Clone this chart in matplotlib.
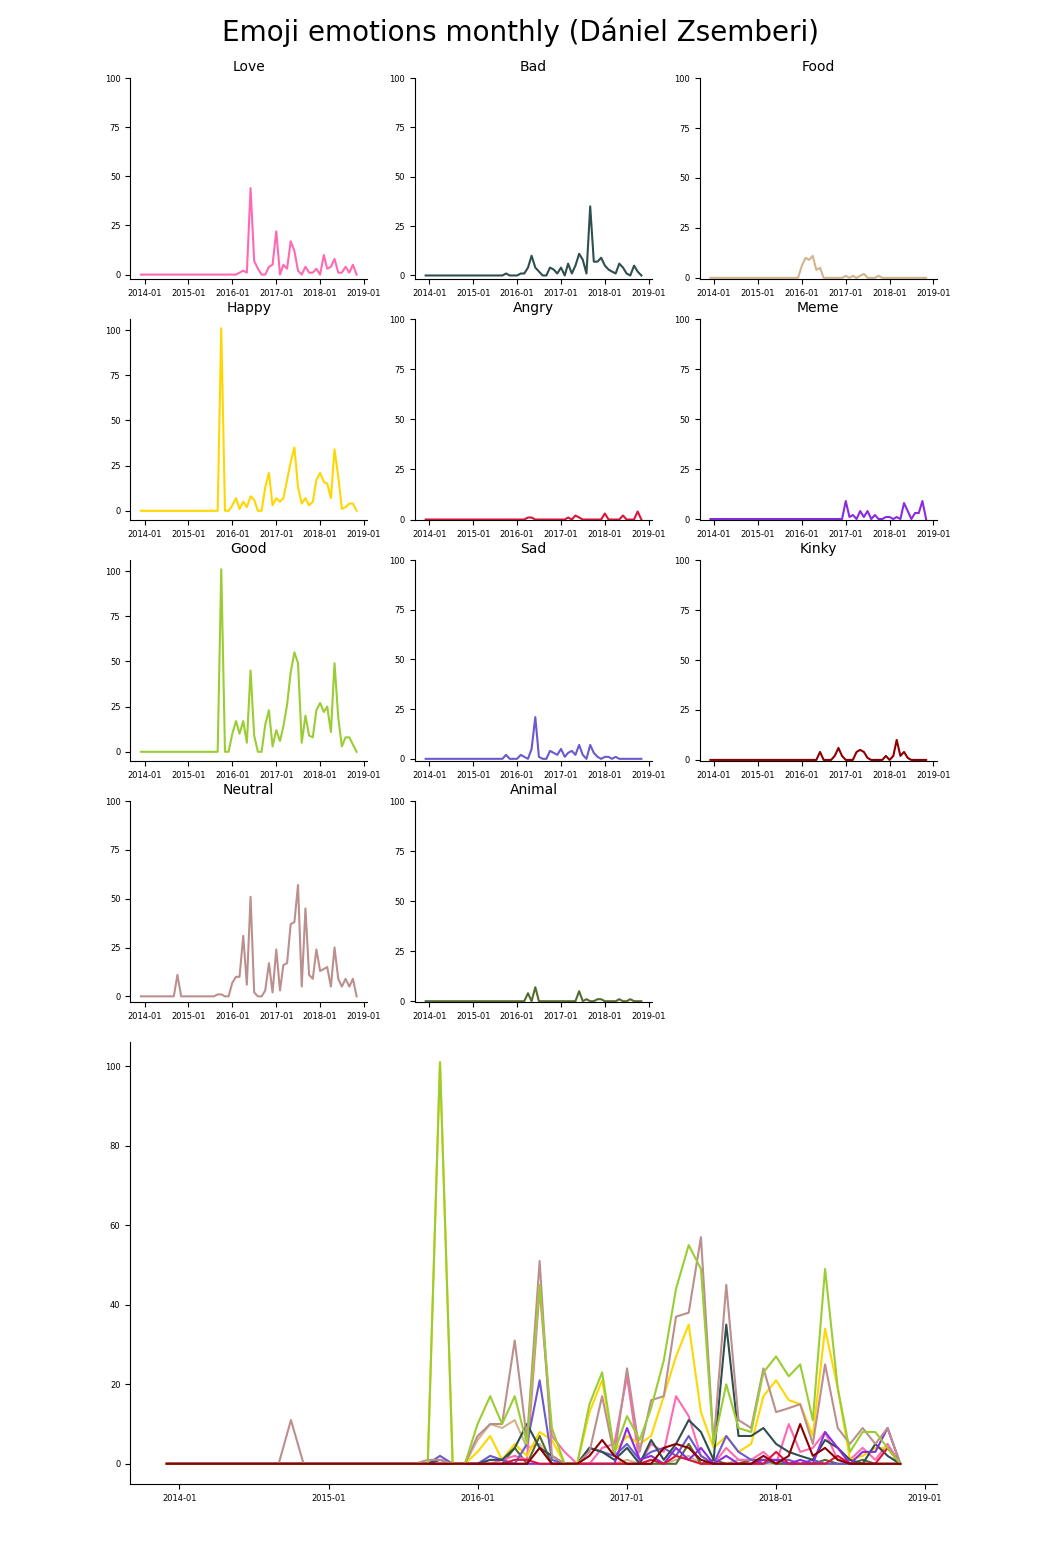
import numpy as np
import pandas as pd
import matplotlib
matplotlib.use("Agg")
import matplotlib.pyplot as plt
import matplotlib.dates as mdates

# monthly counts, 2013-12 .. 2018-11
months = pd.date_range("2013-12-01", periods=60, freq="MS")

z12 = [0] * 12
love = [0] + z12 + z12 + \
    [0, 0, 1, 2, 1, 44, 7, 3, 0, 0, 4, 5] + \
    [22, 0, 5, 3, 17, 12, 2, 0, 4, 1, 1, 3] + \
    [0, 10, 3, 4, 8, 1, 1, 4, 1, 5, 0]
bad = [0] + z12 + [0, 0, 0, 0, 0, 0, 0, 0, 0, 1, 0, 0] + \
    [0, 1, 1, 4, 10, 4, 2, 0, 0, 4, 3, 1] + \
    [4, 0, 6, 1, 5, 11, 8, 1, 35, 7, 7, 9] + \
    [5, 3, 2, 1, 6, 4, 1, 0, 5, 2, 0]
food = [0] + z12 + z12 + \
    [6, 10, 9, 11, 4, 5, 0, 0, 0, 0, 0, 0] + \
    [1, 0, 1, 0, 1, 2, 0, 0, 0, 1, 0, 0] + \
    [0] * 11
happy = [0] + z12 + [0, 0, 0, 0, 0, 0, 0, 0, 0, 101, 0, 0] + \
    [3, 7, 1, 5, 2, 8, 6, 0, 0, 13, 21, 3] + \
    [7, 5, 7, 17, 27, 35, 13, 4, 7, 3, 5, 17] + \
    [21, 16, 15, 7, 34, 19, 1, 2, 4, 4, 0]
angry = [0] + z12 + z12 + \
    [0, 0, 0, 1, 1, 0, 0, 0, 0, 0, 0, 0] + \
    [0, 0, 1, 0, 2, 1, 0, 0, 0, 0, 0, 0] + \
    [3, 0, 0, 0, 0, 2, 0, 0, 0, 4, 0]
meme = [0] + z12 + z12 + z12 + \
    [9, 1, 2, 0, 4, 1, 4, 0, 2, 0, 0, 1] + \
    [1, 0, 1, 0, 8, 4, 0, 3, 3, 9, 0]
good = [0] + z12 + [0, 0, 0, 0, 0, 0, 0, 0, 0, 101, 0, 0] + \
    [10, 17, 10, 17, 5, 45, 9, 0, 0, 15, 23, 3] + \
    [12, 6, 14, 26, 44, 55, 49, 5, 20, 9, 8, 23] + \
    [27, 22, 25, 11, 49, 19, 3, 8, 8, 4, 0]
sad = [0] + z12 + [0, 0, 0, 0, 0, 0, 0, 0, 0, 2, 0, 0] + \
    [0, 2, 1, 0, 5, 21, 1, 0, 0, 4, 3, 2] + \
    [5, 1, 3, 4, 2, 7, 2, 0, 7, 3, 1, 0] + \
    [1, 1, 0, 1, 0, 0, 0, 0, 0, 0, 0]
kinky = [0] + z12 + z12 + \
    [0, 0, 0, 0, 0, 4, 0, 0, 0, 2, 6, 2] + \
    [0, 0, 0, 4, 5, 4, 1, 0, 0, 0, 0, 2] + \
    [0, 2, 10, 2, 4, 1, 0, 0, 0, 0, 0]
neutral = [0] + [0, 0, 0, 0, 0, 0, 0, 0, 0, 11, 0, 0] + \
    [0, 0, 0, 0, 0, 0, 0, 0, 1, 1, 0, 0] + \
    [7, 10, 10, 31, 6, 51, 2, 0, 0, 3, 17, 2] + \
    [24, 3, 16, 17, 37, 38, 57, 5, 45, 11, 9, 24] + \
    [13, 14, 15, 5, 25, 9, 5, 9, 5, 9, 0]
animal = [0] + z12 + z12 + \
    [0, 0, 0, 4, 0, 7, 0, 0, 0, 0, 0, 0] + \
    [0, 0, 0, 0, 0, 5, 0, 1, 0, 0, 1, 1] + \
    [0, 0, 0, 0, 1, 0, 0, 1, 0, 0, 0]

names = ["Love", "Bad", "Food", "Happy", "Angry", "Meme",
         "Good", "Sad", "Kinky", "Neutral", "Animal"]
series = [love, bad, food, happy, angry, meme, good, sad, kinky, neutral, animal]
colors = ["hotpink", "darkslategray", "tan", "gold", "crimson", "blueviolet",
          "yellowgreen", "slateblue", "darkred", "rosybrown", "darkolivegreen"]

fig = plt.figure(figsize=(10.41, 15.62), dpi=100)
gs = fig.add_gridspec(6, 3, left=0.125, right=0.9, top=0.95, bottom=0.05,
                      wspace=0.2, hspace=0.2)
fig.suptitle("Emoji emotions monthly (Dániel Zsemberi)", fontsize=20, y=0.989)

for k, (name, vals, col) in enumerate(zip(names, series, colors)):
    ax = fig.add_subplot(gs[k // 3, k % 3])
    ax.plot(months, vals, color=col, lw=1.5)
    ax.set_title(name, fontsize=10, pad=5)
    lo, hi = ax.get_ylim()
    if hi < 100:
        ax.set_ylim(lo, 100)
    ax.set_yticks([0, 25, 50, 75, 100])
    ax.xaxis.set_major_locator(mdates.YearLocator())
    ax.xaxis.set_major_formatter(mdates.DateFormatter("%Y-%m"))
    ax.tick_params(labelsize=6)
    ax.spines["top"].set_visible(False)
    ax.spines["right"].set_visible(False)

# all series together
big = fig.add_subplot(gs[4:, :])
order = [2, 10, 0, 3, 7, 1, 5, 4, 9, 6, 8]
for k in order:
    big.plot(months, series[k], color=colors[k], lw=1.5)
big.set_yticks([0, 20, 40, 60, 80, 100])
big.xaxis.set_major_locator(mdates.YearLocator())
big.xaxis.set_major_formatter(mdates.DateFormatter("%Y-%m"))
for lab in big.get_xticklabels() + big.get_yticklabels():
    lab.set_family(["Liberation Sans Narrow", "DejaVu Sans"])
    lab.set_fontsize(6)
big.spines["top"].set_visible(False)
big.spines["right"].set_visible(False)

fig.savefig("out.png", dpi=100)
